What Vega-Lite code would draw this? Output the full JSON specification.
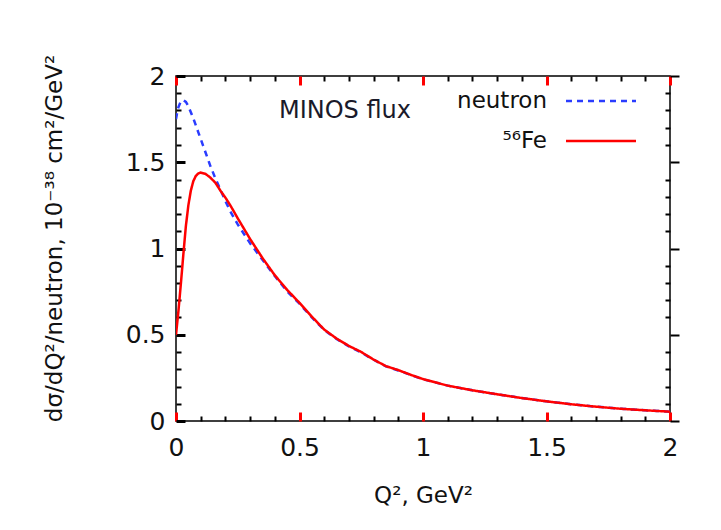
{
  "$schema": "https://vega.github.io/schema/vega-lite/v6.json",
  "width": 494,
  "height": 345,
  "autosize": {"type": "none"},
  "padding": {"left": 176, "top": 76, "right": 51, "bottom": 109},
  "background": "white",
  "config": {
    "font": "DejaVu Sans",
    "view": {"stroke": "#000000", "strokeWidth": 1.5},
    "axis": {"domain": false, "grid": false, "labelColor": "#111111", "titleColor": "#111111", "labelFontSize": 25, "titleFontSize": 23, "titleFontWeight": "normal", "labelFont": "DejaVu Sans", "titleFont": "DejaVu Sans", "format": "~g"}
  },
  "data": {"values": [
    {"q": 0, "v": 1.75, "series": "neutron"},
    {"q": 0.005, "v": 1.79, "series": "neutron"},
    {"q": 0.01, "v": 1.82, "series": "neutron"},
    {"q": 0.02, "v": 1.855, "series": "neutron"},
    {"q": 0.03, "v": 1.86, "series": "neutron"},
    {"q": 0.04, "v": 1.85, "series": "neutron"},
    {"q": 0.05, "v": 1.825, "series": "neutron"},
    {"q": 0.06, "v": 1.79, "series": "neutron"},
    {"q": 0.07, "v": 1.755, "series": "neutron"},
    {"q": 0.08, "v": 1.715, "series": "neutron"},
    {"q": 0.09, "v": 1.675, "series": "neutron"},
    {"q": 0.10, "v": 1.635, "series": "neutron"},
    {"q": 0.11, "v": 1.595, "series": "neutron"},
    {"q": 0.12, "v": 1.555, "series": "neutron"},
    {"q": 0.13, "v": 1.515, "series": "neutron"},
    {"q": 0.14, "v": 1.475, "series": "neutron"},
    {"q": 0.15, "v": 1.44, "series": "neutron"},
    {"q": 0.16, "v": 1.405, "series": "neutron"},
    {"q": 0.18, "v": 1.34, "series": "neutron"},
    {"q": 0.20, "v": 1.275, "series": "neutron"},
    {"q": 0.22, "v": 1.215, "series": "neutron"},
    {"q": 0.25, "v": 1.14, "series": "neutron"},
    {"q": 0.30, "v": 1.03, "series": "neutron"},
    {"q": 0.35, "v": 0.935, "series": "neutron"},
    {"q": 0.40, "v": 0.84, "series": "neutron"},
    {"q": 0.45, "v": 0.752, "series": "neutron"},
    {"q": 0.50, "v": 0.68, "series": "neutron"},
    {"q": 0.55, "v": 0.60, "series": "neutron"},
    {"q": 0.60, "v": 0.528, "series": "neutron"},
    {"q": 0.65, "v": 0.476, "series": "neutron"},
    {"q": 0.70, "v": 0.433, "series": "neutron"},
    {"q": 0.75, "v": 0.397, "series": "neutron"},
    {"q": 0.80, "v": 0.355, "series": "neutron"},
    {"q": 0.85, "v": 0.317, "series": "neutron"},
    {"q": 0.90, "v": 0.293, "series": "neutron"},
    {"q": 0.95, "v": 0.267, "series": "neutron"},
    {"q": 1.00, "v": 0.242, "series": "neutron"},
    {"q": 1.10, "v": 0.205, "series": "neutron"},
    {"q": 1.20, "v": 0.178, "series": "neutron"},
    {"q": 1.30, "v": 0.155, "series": "neutron"},
    {"q": 1.40, "v": 0.133, "series": "neutron"},
    {"q": 1.50, "v": 0.114, "series": "neutron"},
    {"q": 1.60, "v": 0.097, "series": "neutron"},
    {"q": 1.70, "v": 0.083, "series": "neutron"},
    {"q": 1.80, "v": 0.071, "series": "neutron"},
    {"q": 1.90, "v": 0.062, "series": "neutron"},
    {"q": 2.00, "v": 0.054, "series": "neutron"},
    {"q": 0, "v": 0.50, "series": "⁵⁶Fe"},
    {"q": 0.005, "v": 0.57, "series": "⁵⁶Fe"},
    {"q": 0.01, "v": 0.64, "series": "⁵⁶Fe"},
    {"q": 0.02, "v": 0.80, "series": "⁵⁶Fe"},
    {"q": 0.03, "v": 0.97, "series": "⁵⁶Fe"},
    {"q": 0.04, "v": 1.13, "series": "⁵⁶Fe"},
    {"q": 0.05, "v": 1.25, "series": "⁵⁶Fe"},
    {"q": 0.06, "v": 1.335, "series": "⁵⁶Fe"},
    {"q": 0.07, "v": 1.39, "series": "⁵⁶Fe"},
    {"q": 0.08, "v": 1.42, "series": "⁵⁶Fe"},
    {"q": 0.09, "v": 1.435, "series": "⁵⁶Fe"},
    {"q": 0.10, "v": 1.44, "series": "⁵⁶Fe"},
    {"q": 0.12, "v": 1.432, "series": "⁵⁶Fe"},
    {"q": 0.14, "v": 1.41, "series": "⁵⁶Fe"},
    {"q": 0.16, "v": 1.38, "series": "⁵⁶Fe"},
    {"q": 0.18, "v": 1.335, "series": "⁵⁶Fe"},
    {"q": 0.20, "v": 1.295, "series": "⁵⁶Fe"},
    {"q": 0.22, "v": 1.25, "series": "⁵⁶Fe"},
    {"q": 0.25, "v": 1.175, "series": "⁵⁶Fe"},
    {"q": 0.30, "v": 1.055, "series": "⁵⁶Fe"},
    {"q": 0.35, "v": 0.945, "series": "⁵⁶Fe"},
    {"q": 0.40, "v": 0.845, "series": "⁵⁶Fe"},
    {"q": 0.45, "v": 0.76, "series": "⁵⁶Fe"},
    {"q": 0.50, "v": 0.685, "series": "⁵⁶Fe"},
    {"q": 0.55, "v": 0.605, "series": "⁵⁶Fe"},
    {"q": 0.60, "v": 0.53, "series": "⁵⁶Fe"},
    {"q": 0.65, "v": 0.478, "series": "⁵⁶Fe"},
    {"q": 0.70, "v": 0.435, "series": "⁵⁶Fe"},
    {"q": 0.75, "v": 0.40, "series": "⁵⁶Fe"},
    {"q": 0.80, "v": 0.356, "series": "⁵⁶Fe"},
    {"q": 0.85, "v": 0.318, "series": "⁵⁶Fe"},
    {"q": 0.90, "v": 0.295, "series": "⁵⁶Fe"},
    {"q": 0.95, "v": 0.268, "series": "⁵⁶Fe"},
    {"q": 1.00, "v": 0.243, "series": "⁵⁶Fe"},
    {"q": 1.10, "v": 0.205, "series": "⁵⁶Fe"},
    {"q": 1.20, "v": 0.178, "series": "⁵⁶Fe"},
    {"q": 1.30, "v": 0.155, "series": "⁵⁶Fe"},
    {"q": 1.40, "v": 0.133, "series": "⁵⁶Fe"},
    {"q": 1.50, "v": 0.114, "series": "⁵⁶Fe"},
    {"q": 1.60, "v": 0.097, "series": "⁵⁶Fe"},
    {"q": 1.70, "v": 0.083, "series": "⁵⁶Fe"},
    {"q": 1.80, "v": 0.071, "series": "⁵⁶Fe"},
    {"q": 1.90, "v": 0.062, "series": "⁵⁶Fe"},
    {"q": 2.00, "v": 0.054, "series": "⁵⁶Fe"}
  ]},
  "resolve": {"axis": {"x": "independent", "y": "independent"}},
  "layer": [
    {
      "mark": {"type": "line", "strokeWidth": 2.5, "clip": true},
      "encoding": {
        "x": {"field": "q", "type": "quantitative", "scale": {"domain": [0, 2], "nice": false, "zero": false},
          "axis": {"orient": "bottom", "values": [0, 0.5, 1, 1.5, 2], "ticks": true, "tickColor": "red", "tickWidth": 3, "tickOpacity": 1, "tickSize": -9, "labelPadding": 23, "title": "Q², GeV²", "titlePadding": 24, "labelFlush": false}},
        "y": {"field": "v", "type": "quantitative", "scale": {"domain": [0, 2], "nice": false, "zero": false},
          "axis": {"orient": "left", "values": [0, 0.5, 1, 1.5, 2], "ticks": true, "tickColor": "black", "tickWidth": 3, "tickOpacity": 1, "tickSize": -9, "labelPadding": 20, "title": "dσ/dQ²/neutron,  10⁻³⁸ cm²/GeV²", "titleBaseline": "alphabetic", "titleX": -115, "titleY": 162, "labelFlush": false}},
        "color": {"field": "series", "type": "nominal", "scale": {"domain": ["neutron", "⁵⁶Fe"], "range": ["#2a3cff", "#ff0000"]},
          "legend": {"title": null, "orient": "none", "legendX": 390, "legendY": 6, "padding": 0, "symbolType": "M-2,0H2", "symbolSize": 1225, "symbolStrokeWidth": 2.5, "symbolOffset": 16, "rowPadding": 9, "labelAlign": "right", "labelOffset": -73, "labelFontSize": 23, "labelFont": "DejaVu Sans", "labelColor": "#111111", "labelLimit": 300}},
        "strokeDash": {"field": "series", "type": "nominal", "scale": {"domain": ["neutron", "⁵⁶Fe"], "range": [[6, 5], [1, 0]]},
          "legend": {"title": null, "orient": "none", "legendX": 390, "legendY": 6, "padding": 0, "symbolType": "M-2,0H2", "symbolSize": 1225, "symbolStrokeWidth": 2.5, "symbolOffset": 16, "rowPadding": 9, "labelAlign": "right", "labelOffset": -73, "labelFontSize": 23, "labelFont": "DejaVu Sans", "labelColor": "#111111", "labelLimit": 300}}
      }
    },
    {
      "mark": {"type": "point", "opacity": 0},
      "encoding": {
        "x": {"field": "q", "type": "quantitative", "scale": {"domain": [0, 2], "nice": false, "zero": false},
          "axis": {"orient": "top", "values": [0, 0.5, 1, 1.5, 2], "offset": -9, "ticks": true, "tickColor": "red", "tickWidth": 3, "tickOpacity": 1, "tickSize": 9, "labels": false, "title": null}},
        "y": {"field": "v", "type": "quantitative", "scale": {"domain": [0, 2], "nice": false, "zero": false},
          "axis": {"orient": "right", "values": [0, 0.5, 1, 1.5, 2], "ticks": true, "tickColor": "#000000", "tickWidth": 2, "tickOpacity": 1, "tickSize": 9, "labels": false, "title": null}}
      }
    },
    {
      "mark": {"type": "point", "opacity": 0},
      "encoding": {
        "x": {"field": "q", "type": "quantitative", "scale": {"domain": [0, 2], "nice": false, "zero": false},
          "axis": {"orient": "bottom", "values": [0.1, 0.2, 0.3, 0.4, 0.6, 0.7, 0.8, 0.9, 1.1, 1.2, 1.3, 1.4, 1.6, 1.7, 1.8, 1.9], "ticks": true, "tickColor": "black", "tickWidth": 2, "tickOpacity": 1, "tickSize": -5, "labels": false, "title": null}},
        "y": {"field": "v", "type": "quantitative", "scale": {"domain": [0, 2], "nice": false, "zero": false},
          "axis": {"orient": "left", "values": [0.1, 0.2, 0.3, 0.4, 0.6, 0.7, 0.8, 0.9, 1.1, 1.2, 1.3, 1.4, 1.6, 1.7, 1.8, 1.9], "ticks": true, "tickColor": "black", "tickWidth": 2, "tickOpacity": 1, "tickSize": -5, "labels": false, "title": null}}
      }
    },
    {
      "mark": {"type": "point", "opacity": 0},
      "encoding": {
        "x": {"field": "q", "type": "quantitative", "scale": {"domain": [0, 2], "nice": false, "zero": false},
          "axis": {"orient": "top", "values": [0.1, 0.2, 0.3, 0.4, 0.6, 0.7, 0.8, 0.9, 1.1, 1.2, 1.3, 1.4, 1.6, 1.7, 1.8, 1.9], "ticks": true, "tickColor": "black", "tickWidth": 2, "tickOpacity": 1, "tickSize": -5, "labels": false, "title": null}},
        "y": {"field": "v", "type": "quantitative", "scale": {"domain": [0, 2], "nice": false, "zero": false},
          "axis": {"orient": "right", "values": [0.1, 0.2, 0.3, 0.4, 0.6, 0.7, 0.8, 0.9, 1.1, 1.2, 1.3, 1.4, 1.6, 1.7, 1.8, 1.9], "ticks": true, "tickColor": "black", "tickWidth": 2, "tickOpacity": 1, "tickSize": -5, "labels": false, "title": null}}
      }
    },
    {
      "data": {"values": [{"label": "MINOS flux"}]},
      "mark": {"type": "text", "fontSize": 24, "font": "DejaVu Sans", "color": "#1a1a2a", "align": "center", "baseline": "middle"},
      "encoding": {
        "text": {"field": "label"},
        "x": {"datum": 0.684, "type": "quantitative", "axis": null},
        "y": {"datum": 1.80, "type": "quantitative", "axis": null}
      }
    }
  ]
}
